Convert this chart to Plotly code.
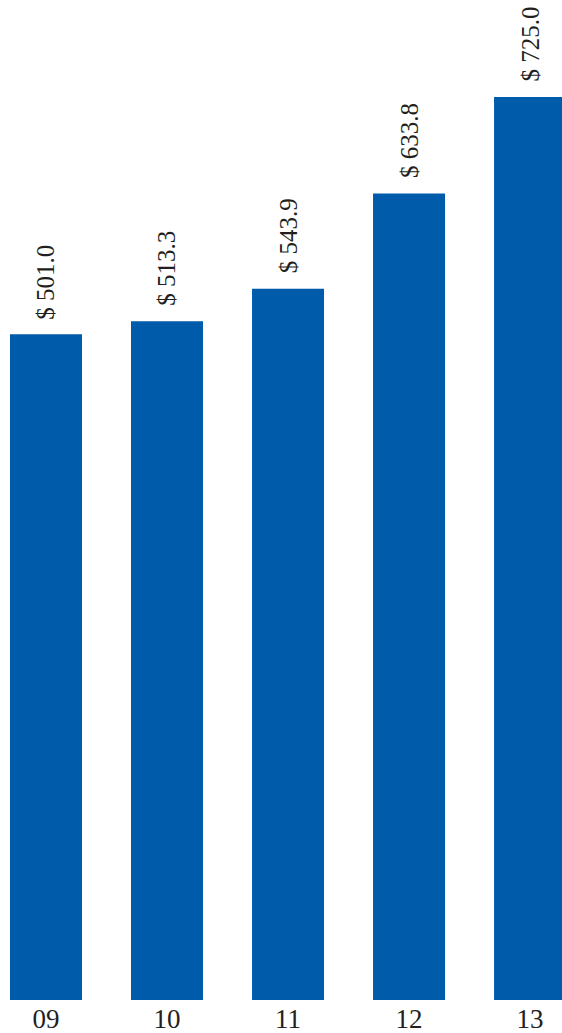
import plotly.graph_objects as go

categories = ["09", "10", "11", "12", "13"]
values = [501.0, 513.3, 543.9, 633.8, 725.0]
labels = ["$ 501.0", "$ 513.3", "$ 543.9", "$ 633.8", "$ 725.0"]

BASELINE = -127.0   # axis value at the bottom of the bars (chart is not zero-based)
Y_TOP = 816.4
BAR_COLOR = "#005BAA"
TEXT_COLOR = "#231F20"
FONT = "Liberation Serif"

fig = go.Figure(
    go.Bar(
        x=categories,
        y=[v - BASELINE for v in values],
        base=BASELINE,
        marker=dict(color=BAR_COLOR, line=dict(width=0)),
        hoverinfo="skip",
    )
)

for i, (val, lab) in enumerate(zip(values, labels)):
    fig.add_annotation(
        x=i,
        y=val,
        xref="x",
        yref="y",
        text=lab,
        textangle=-90,
        showarrow=False,
        xanchor="center",
        yanchor="bottom",
        yshift=13,
        font=dict(family=FONT, size=25, color=TEXT_COLOR),
    )

fig.update_layout(
    width=562,
    height=1033,
    margin=dict(l=0, r=0, t=0, b=33),
    paper_bgcolor="white",
    plot_bgcolor="white",
    bargap=0.405,
    showlegend=False,
    font=dict(family=FONT, color=TEXT_COLOR),
)
fig.update_xaxes(
    type="category",
    range=[-0.380, 4.264],
    showgrid=False,
    zeroline=False,
    showline=False,
    ticks="",
    tickfont=dict(family=FONT, size=27, color=TEXT_COLOR),
)
fig.update_yaxes(
    range=[BASELINE, Y_TOP],
    visible=False,
    showgrid=False,
    zeroline=False,
)

fig.write_html(
    "out.html",
    config={"displayModeBar": False},
    post_script="document.body.style.margin='0';document.body.style.overflow='hidden';",
)
